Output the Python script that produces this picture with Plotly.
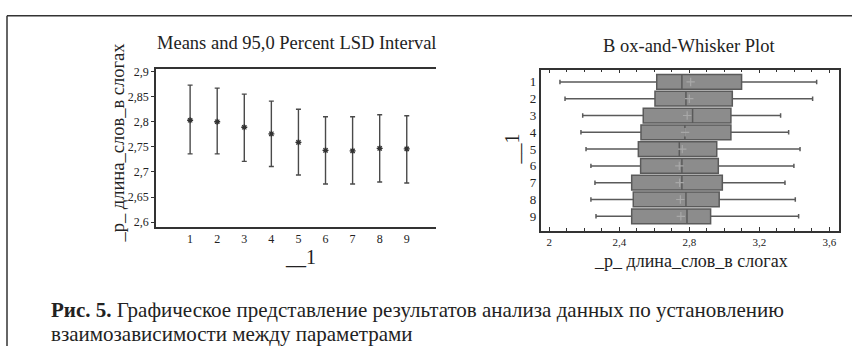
import plotly.graph_objects as go

# ---------------- data ----------------
groups = [1, 2, 3, 4, 5, 6, 7, 8, 9]
group_labels = ["1", "2", "3", "4", "5", "6", "7", "8", "9"]

# Means and 95% LSD interval
means = [2.803, 2.800, 2.789, 2.776, 2.759, 2.743, 2.742, 2.747, 2.746]
lsd_upper = [2.873, 2.867, 2.855, 2.841, 2.825, 2.810, 2.810, 2.814, 2.812]
lsd_lower = [2.736, 2.736, 2.721, 2.711, 2.694, 2.676, 2.676, 2.680, 2.678]
left_ytick_vals = [2.6, 2.65, 2.7, 2.75, 2.8, 2.85, 2.9]
left_ytick_text = ["2,6", "2,65", "2,7", "2,75", "2,8", "2,85", "2,9"]

# Box-and-whisker
box_min = [2.061, 2.090, 2.191, 2.181, 2.210, 2.238, 2.261, 2.238, 2.267]
box_q1 = [2.614, 2.604, 2.537, 2.524, 2.509, 2.522, 2.471, 2.480, 2.471]
box_median = [2.758, 2.781, 2.819, 2.775, 2.743, 2.758, 2.758, 2.781, 2.787]
box_q3 = [3.099, 3.046, 3.038, 3.038, 2.957, 2.966, 2.989, 2.971, 2.922]
box_max = [3.528, 3.505, 3.322, 3.368, 3.433, 3.398, 3.347, 3.406, 3.425]
box_mean = [2.808, 2.800, 2.788, 2.776, 2.760, 2.743, 2.745, 2.749, 2.752]
right_xtick_vals = [2.0, 2.4, 2.8, 3.2, 3.6]
right_xtick_text = ["2", "2,4", "2,8", "3,2", "3,6"]

left_title = "Means and 95,0 Percent LSD Interval"
right_title = "B ox-and-Whisker Plot"
var_title = "_p_ длина_слов_в слогах"
group_title = "__1"
caption_bold = "Рис. 5."
caption_line1 = " Графическое представление результатов анализа данных по установлению"
caption_line2 = "взаимозависимости между параметрами"

# ---------------- figure ----------------
W, H = 852, 348
FONT = "Liberation Serif"
AX = "#333333"

def px(x):
    return x / W

def py(y):
    return 1 - y / H

fig = go.Figure()

err_plus = [u - m for u, m in zip(lsd_upper, means)]
err_minus = [m - l for m, l in zip(means, lsd_lower)]

fig.add_trace(go.Scatter(
    x=groups, y=means, mode="markers",
    marker=dict(symbol="asterisk-open", size=5, color="#333333",
                line=dict(width=1.3, color="#333333")),
    error_y=dict(type="data", symmetric=False, array=err_plus, arrayminus=err_minus,
                 color="#4a4a4a", thickness=1.4, width=2.5),
    xaxis="x", yaxis="y", showlegend=False, hoverinfo="skip",
))

fig.add_trace(go.Box(
    y=groups, q1=box_q1, median=box_median, q3=box_q3,
    lowerfence=box_min, upperfence=box_max,
    orientation="h", width=0.88, whiskerwidth=0.3,
    fillcolor="#8c8c8c", line=dict(color="#5a5a5a", width=1.5),
    xaxis="x2", yaxis="y2", showlegend=False, hoverinfo="skip",
))

fig.add_trace(go.Scatter(
    x=box_mean, y=groups, mode="markers",
    marker=dict(symbol="cross-thin-open", size=6, color="#a8a8a8",
                line=dict(width=1.2, color="#a8a8a8")),
    xaxis="x2", yaxis="y2", showlegend=False, hoverinfo="skip",
))

fig.update_layout(
    width=W, height=H,
    margin=dict(l=0, r=0, t=0, b=0),
    paper_bgcolor="white", plot_bgcolor="white",
    font=dict(family=FONT, color="#222222"),
    xaxis=dict(
        domain=[px(156), px(436)], range=[-0.26, 10.08],
        tickvals=groups, ticktext=group_labels,
        showline=True, linecolor=AX, linewidth=1.5, mirror=True,
        ticks="", showgrid=False, zeroline=False,
        tickfont=dict(size=12, family=FONT),
        anchor="y",
    ),
    yaxis=dict(
        domain=[py(227), py(66)], range=[2.5902, 2.9053],
        tickvals=left_ytick_vals, ticktext=left_ytick_text,
        showline=True, linecolor=AX, linewidth=1.5,
        ticks="outside", ticklen=3, tickcolor=AX, tickwidth=1,
        showgrid=False, zeroline=False,
        tickfont=dict(size=12, family=FONT),
        anchor="x",
    ),
    xaxis2=dict(
        domain=[px(540.7), px(838.7)], range=[1.951, 3.654],
        tickvals=right_xtick_vals, ticktext=right_xtick_text,
        showline=True, linecolor=AX, linewidth=1.5, mirror="ticks",
        ticks="inside", ticklen=4, tickcolor=AX, tickwidth=1,
        minor=dict(dtick=0.1, tick0=2.0, ticks="inside", ticklen=3, tickcolor=AX, showgrid=False),
        showgrid=False, zeroline=False,
        tickfont=dict(size=11, family=FONT),
        anchor="y2",
    ),
    yaxis2=dict(
        domain=[py(230.7), py(66.7)], range=[9.86, 0.263],
        tickvals=groups, ticktext=group_labels,
        showline=True, linecolor=AX, linewidth=1.5, mirror=True,
        ticks="", showgrid=False, zeroline=False,
        tickfont=dict(size=13, family=FONT),
        anchor="x2",
    ),
)

ann = []
def add_text(text, x, y, size, angle=0, xanchor="center", yanchor="middle"):
    ann.append(dict(text=text, x=px(x), y=py(y), xref="paper", yref="paper",
                    showarrow=False, textangle=angle, xanchor=xanchor, yanchor=yanchor,
                    font=dict(family=FONT, size=size, color="#222222")))

add_text(left_title, 296.5, 40, 18.5)
add_text(right_title, 689, 43, 18.5)
add_text(var_title, 118, 141, 18.5, angle=-90)
add_text(group_title, 300, 257, 20)
add_text(group_title, 512, 148, 20, angle=-90)
add_text(var_title, 690.5, 262, 18)
add_text("<b>" + caption_bold + "</b>" + caption_line1, 49, 311, 21, xanchor="left")
add_text(caption_line2, 49, 336, 21, xanchor="left")
fig.update_layout(annotations=ann)

fig.update_layout(shapes=[
    dict(type="line", xref="paper", yref="paper", x0=px(7), x1=1, y0=py(12), y1=py(12),
         line=dict(color="#333333", width=1.5)),
    dict(type="line", xref="paper", yref="paper", x0=px(7), x1=px(7), y0=py(12), y1=0,
         line=dict(color="#333333", width=1.5)),
])

fig.write_html("out.html")
